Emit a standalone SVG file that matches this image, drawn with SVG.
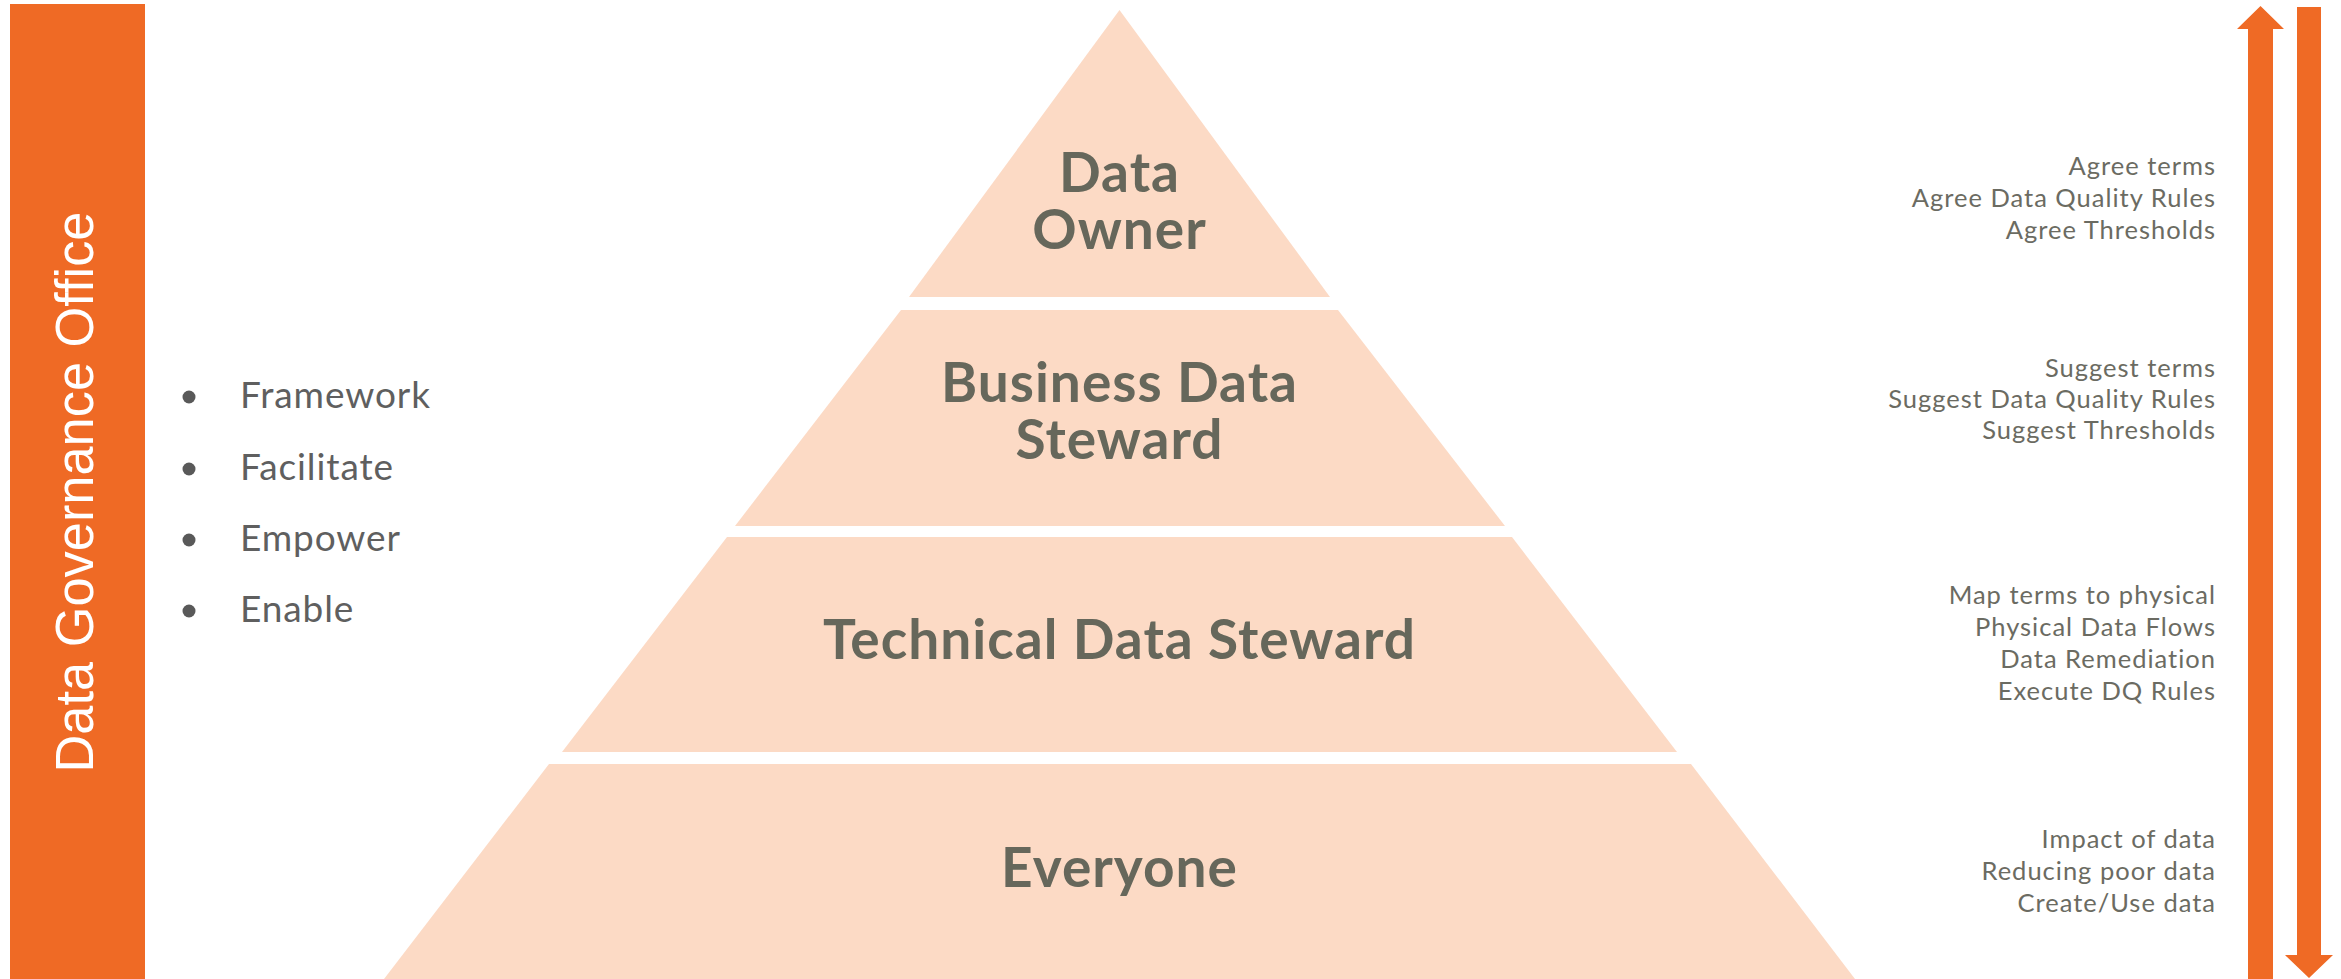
<svg xmlns="http://www.w3.org/2000/svg" width="2341" height="979" viewBox="0 0 2341 979">
  <style>
    .bar { fill: #EF6A25; }
    .tier { fill: #FCDAC5; }
    .tl { font-family: Lato, "Open Sans", "Liberation Sans", sans-serif; font-weight: bold; font-size: 55px; letter-spacing: 1px; fill: #66675B; text-anchor: middle; }
    .rt { font-family: Lato, "Open Sans", "Liberation Sans", sans-serif; font-size: 25.5px; letter-spacing: 1px; fill: #6B6B62; text-anchor: end; }
    .bl { font-family: Lato, "Open Sans", "Liberation Sans", sans-serif; font-size: 37px; letter-spacing: 0.9px; fill: #5F5F5F; }
    .dot { fill: #595959; }
    .vt { font-family: "Liberation Sans", Arial, sans-serif; font-size: 53px; fill: #FFFFFF; text-anchor: middle; }
  </style>
  <rect width="2341" height="979" fill="#FFFFFF"/>

  <g id="dgo">
    <rect class="bar" x="10" y="4" width="135" height="975"/>
    <text class="vt" transform="translate(93,492) rotate(-90)" textLength="561" lengthAdjust="spacingAndGlyphs">Data Governance Office</text>
  </g>

  <g id="bullets">
    <circle class="dot" cx="189" cy="397" r="6.5"/>
    <text class="bl" x="240" y="408">Framework</text>
    <circle class="dot" cx="189" cy="469" r="6.5"/>
    <text class="bl" x="240" y="480">Facilitate</text>
    <circle class="dot" cx="189" cy="540" r="6.5"/>
    <text class="bl" x="240" y="551">Empower</text>
    <circle class="dot" cx="189" cy="611" r="6.5"/>
    <text class="bl" x="240" y="622">Enable</text>
  </g>

  <g id="tier-data-owner">
    <polygon class="tier" points="1119.5,10 1330,297 909,297"/>
    <text class="tl"><tspan x="1119.5" y="192">Data</tspan><tspan x="1119.5" y="249">Owner</tspan></text>
  </g>
  <g id="tier-business-data-steward">
    <polygon class="tier" points="901,310 1338,310 1505,526 735,526"/>
    <text class="tl"><tspan x="1119.5" y="402">Business Data</tspan><tspan x="1119.5" y="459">Steward</tspan></text>
  </g>
  <g id="tier-technical-data-steward">
    <polygon class="tier" points="727,537 1512,537 1677,752 562,752"/>
    <text class="tl" x="1119.5" y="659">Technical Data Steward</text>
  </g>
  <g id="tier-everyone">
    <polygon class="tier" points="549,764 1691,764 1855,979 384,979"/>
    <text class="tl" x="1119.5" y="887">Everyone</text>
  </g>

  <g id="desc-owner">
    <text class="rt" x="2216" y="175">Agree terms</text>
    <text class="rt" x="2216" y="207">Agree Data Quality Rules</text>
    <text class="rt" x="2216" y="239">Agree Thresholds</text>
  </g>
  <g id="desc-business">
    <text class="rt" x="2216" y="377">Suggest terms</text>
    <text class="rt" x="2216" y="408">Suggest Data Quality Rules</text>
    <text class="rt" x="2216" y="439">Suggest Thresholds</text>
  </g>
  <g id="desc-technical">
    <text class="rt" x="2216" y="604">Map terms to physical</text>
    <text class="rt" x="2216" y="636">Physical Data Flows</text>
    <text class="rt" x="2216" y="668">Data Remediation</text>
    <text class="rt" x="2216" y="700">Execute DQ Rules</text>
  </g>
  <g id="desc-everyone">
    <text class="rt" x="2216" y="848">Impact of data</text>
    <text class="rt" x="2216" y="880">Reducing poor data</text>
    <text class="rt" x="2216" y="912">Create/Use data</text>
  </g>

  <g id="connectors">
    <polygon class="bar" points="2260.5,6 2284,29 2273,29 2273,979 2248,979 2248,29 2237,29"/>
    <polygon class="bar" points="2297,7 2321,7 2321,955 2333,955 2309,978 2285,955 2297,955"/>
  </g>
</svg>
